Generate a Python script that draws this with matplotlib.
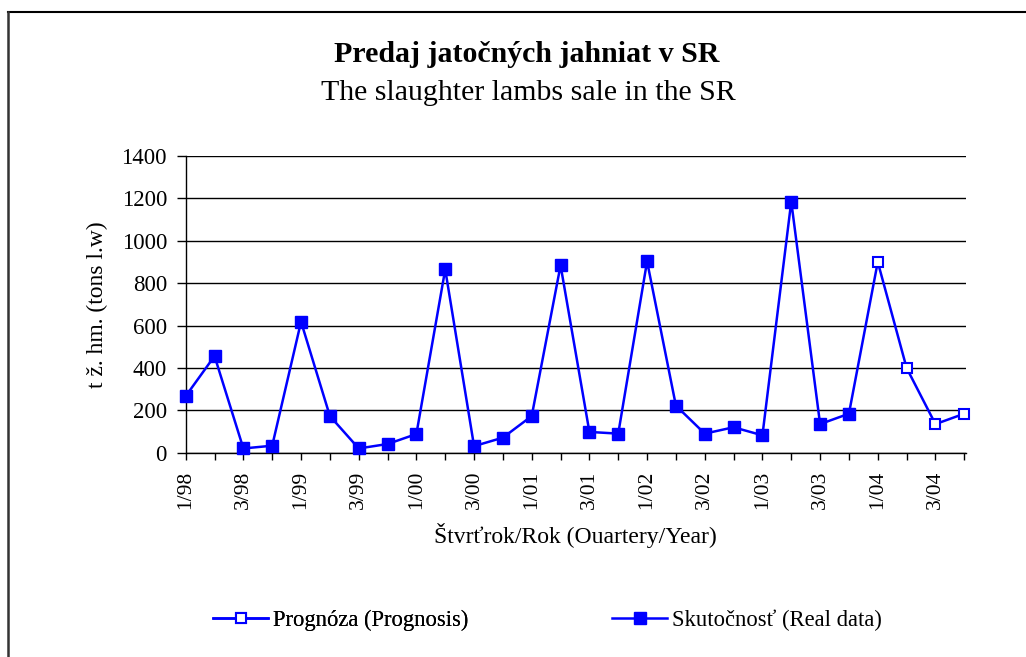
import matplotlib
matplotlib.use("Agg")
import matplotlib.pyplot as plt
from matplotlib.lines import Line2D

plt.rcParams['font.family'] = ['Liberation Serif', 'DejaVu Serif']

quarters = [f"{q}/{y:02d}" for y in [98, 99, 0, 1, 2, 3, 4] for q in [1, 2, 3, 4]]
real_values = [267, 456, 20, 33, 618, 173, 20, 41, 88, 865, 31, 71,
               173, 884, 98, 90, 903, 222, 90, 120, 82, 1185, 135, 184]
prog_quarters = ["4/03", "1/04", "2/04", "3/04", "4/04"]
prog_values = [184, 900, 400, 135, 184]
yticks = [0, 200, 400, 600, 800, 1000, 1200, 1400]

W, H = 1026, 657
fig = plt.figure(figsize=(W / 100, H / 100), dpi=100)
ax = fig.add_axes([185.7 / W, 1 - 452.7 / H, (966 - 185.7) / W, (452.7 - 156) / H])

xi = {q: i for i, q in enumerate(quarters)}
blue = '#0000FF'
lp, = ax.plot([xi[q] for q in prog_quarters], prog_values, color=blue, lw=1.8,
              marker='s', markersize=7.5, markerfacecolor='white',
              markeredgecolor=blue, markeredgewidth=1.5, zorder=3, clip_on=False)
lr, = ax.plot(range(len(real_values)), real_values, color=blue, lw=1.8,
              marker='s', markersize=8.5, markerfacecolor=blue,
              markeredgecolor=blue, zorder=4, clip_on=False)

ax.set_xlim(0, len(quarters) - 1 + 0.06)
ax.set_ylim(0, 1400)
ax.set_yticks(yticks)
ax.yaxis.grid(True, color='black', lw=1)
ax.set_axisbelow(True)
for s in ['top', 'right']:
    ax.spines[s].set_visible(False)
ax.spines['left'].set_linewidth(1)
ax.spines['bottom'].set_linewidth(1)
ax.set_xticks(range(len(quarters)))
ax.set_xticklabels([q if i % 2 == 0 else '' for i, q in enumerate(quarters)],
                   rotation=90, fontsize=15.5)
ax.tick_params(axis='x', direction='out', length=5, width=1, pad=8)
ax.tick_params(axis='y', direction='out', length=6.5, width=1, labelsize=16.5, pad=7)

ax.set_xlabel("Štvrťrok/Rok (Ouartery/Year)", fontsize=17, labelpad=10)
ax.set_ylabel("t ž. hm. (tons l.w)", fontsize=17, labelpad=10)

fig.text(527 / W, 1 - 54 / H, "Predaj jatočných jahniat v SR", ha='center', va='center',
         fontsize=21.5, fontweight='bold')
fig.text(528 / W, 1 - 93 / H, "The slaughter lambs sale in the SR", ha='center', va='center',
         fontsize=21.5)

leg1 = fig.legend([lp], ["Prognóza (Prognosis)"], loc='center left',
                  bbox_to_anchor=(213 / W, 1 - 620 / H), frameon=False, fontsize=16.3,
                  handlelength=2.45, handletextpad=0.2, borderpad=0, borderaxespad=0)
leg2 = fig.legend([lr], ["Skutočnosť (Real data)"], loc='center left',
                  bbox_to_anchor=(612 / W, 1 - 620 / H), frameon=False, fontsize=16.3,
                  handlelength=2.45, handletextpad=0.2, borderpad=0, borderaxespad=0)
fig.add_artist(leg1)

fig.add_artist(Line2D([8 / W, 1], [1 - 12 / H, 1 - 12 / H], color='black', lw=1.5,
                      transform=fig.transFigure))
fig.add_artist(Line2D([8 / W, 8 / W], [1 - 12 / H, 0], color='#333333', lw=1.8,
                      transform=fig.transFigure))

fig.savefig("out.png", dpi=100)
